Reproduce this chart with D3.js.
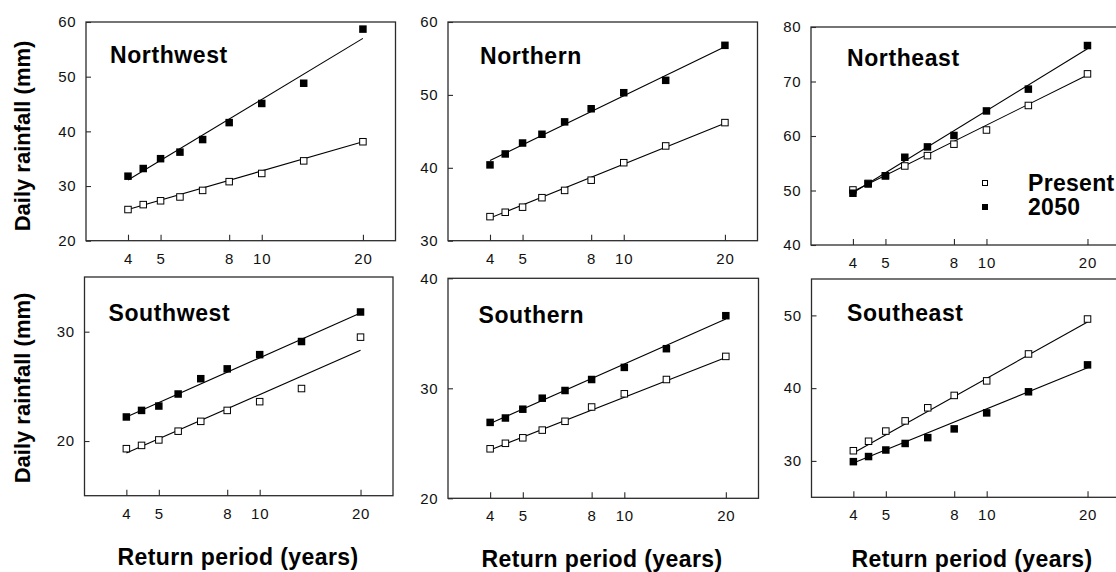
<!DOCTYPE html>
<html>
<head>
<meta charset="utf-8">
<script src="https://cdn.jsdelivr.net/npm/d3@7/dist/d3.min.js"></script>
<style>
  html, body { margin: 0; padding: 0; background: #fff; }
  svg { display: block; font-family: "Liberation Sans", Arial, sans-serif; }
</style>
</head>
<body>
<svg id="chart" width="1116" height="572"></svg>
<script>
// Return periods (years) at which daily rainfall was estimated
const returnPeriods = [4, 4.44, 5, 5.71, 6.67, 8, 10, 13.33, 20];
const xTickValues = [4, 5, 8, 10, 20];
const fitEnds = [4, 20];

const regionNames = ["Northwest", "Northern", "Northeast", "Southwest", "Southern", "Southeast"];

// Daily rainfall (mm), present climate
const presentNorthwest = [25.7, 26.6, 27.3, 28.0, 29.2, 30.8, 32.3, 34.6, 38.1];
const presentNorthern  = [33.3, 33.9, 34.6, 35.9, 36.9, 38.3, 40.7, 43.0, 46.2];
const presentNortheast = [50.1, 51.3, 52.7, 54.5, 56.4, 58.5, 61.1, 65.6, 71.4];
const presentSouthwest = [19.3, 19.6, 20.1, 20.9, 21.8, 22.8, 23.6, 24.8, 29.5];
const presentSouthern  = [24.5, 25.0, 25.5, 26.2, 27.0, 28.3, 29.5, 30.8, 32.9];
const presentSoutheast = [31.4, 32.7, 34.1, 35.5, 37.3, 39.0, 41.0, 44.7, 49.5];

// Daily rainfall (mm), 2050 climate
const y2050Northwest = [31.8, 33.2, 35.0, 36.2, 38.5, 41.6, 45.1, 48.8, 58.7];
const y2050Northern  = [40.4, 41.9, 43.4, 44.6, 46.3, 48.1, 50.3, 52.0, 56.8];
const y2050Northeast = [49.5, 51.2, 52.7, 56.1, 58.0, 60.1, 64.6, 68.6, 76.6];
const y2050Southwest = [22.2, 22.8, 23.2, 24.3, 25.7, 26.6, 27.9, 29.1, 31.8];
const y2050Southern  = [26.9, 27.3, 28.1, 29.1, 29.8, 30.8, 31.9, 33.6, 36.6];
const y2050Southeast = [29.9, 30.6, 31.5, 32.4, 33.2, 34.4, 36.6, 39.5, 43.2];

// Fitted trend lines: values at the 4- and 20-year return periods
const fitPresentNorthwest = [25.7, 38.1];
const fitPresentNorthern  = [33.1, 46.1];
const fitPresentNortheast = [49.8, 71.2];
const fitPresentSouthwest = [18.9, 28.3];
const fitPresentSouthern  = [24.4, 32.8];
const fitPresentSoutheast = [31.1, 49.1];
const fit2050Northwest = [31.1, 57.0];
const fit2050Northern  = [41.0, 56.6];
const fit2050Northeast = [49.6, 76.0];
const fit2050Southwest = [22.2, 31.7];
const fit2050Southern  = [26.8, 36.3];
const fit2050Southeast = [29.7, 42.8];

// Y-axis ranges and tick labels per region
const yDomains = [[20, 60], [30, 60], [40, 80], [15, 35], [20, 40], [25, 55]];
const yTickValues = [[20, 30, 40, 50, 60], [30, 40, 50, 60], [40, 50, 60, 70, 80], [20, 30], [20, 30, 40], [30, 40, 50]];

const legendLabels = ["Present", "2050"];
const yAxisTitle = "Daily rainfall (mm)";
const xAxisTitle = "Return period (years)";

const presentSeries = [presentNorthwest, presentNorthern, presentNortheast, presentSouthwest, presentSouthern, presentSoutheast];
const series2050 = [y2050Northwest, y2050Northern, y2050Northeast, y2050Southwest, y2050Southern, y2050Southeast];
const fitPresent = [fitPresentNorthwest, fitPresentNorthern, fitPresentNortheast, fitPresentSouthwest, fitPresentSouthern, fitPresentSoutheast];
const fit2050 = [fit2050Northwest, fit2050Northern, fit2050Northeast, fit2050Southwest, fit2050Southern, fit2050Southeast];

// Panel frames (left, top, right, bottom) in pixels
const frames = [
  [86, 22, 395.5, 240.7],
  [448, 22, 757.5, 240.7],
  [811, 27, 1120, 245],
  [84.5, 277, 393, 495.7],
  [448, 278.3, 758.5, 498.3],
  [811.5, 279, 1120, 497.3]
];
const titleOffsets = [[24, 40.5], [32, 42], [36, 39], [24, 43.7], [30.5, 45], [35.5, 41.5]];
const xTitleCenters = [238, 602, 972];

const svg = d3.select("#chart");
svg.append("rect").attr("width", 1116).attr("height", 572).attr("fill", "#fff");

const frameColor = "#2b2b2b";
const markerSize = 7.5;

regionNames.forEach((name, i) => {
  const [x0, y0, x1, y1] = frames[i];
  const x = d3.scaleLog().domain([3, 25]).range([x0, x1]);
  const y = d3.scaleLinear().domain(yDomains[i]).range([y1, y0]);
  const g = svg.append("g");

  // x axis (ticks point inward)
  const xAxis = d3.axisBottom(x).tickValues(xTickValues).tickFormat(d3.format("d"))
    .tickSizeInner(-6).tickSizeOuter(0).tickPadding(12.5);
  const gx = g.append("g").attr("transform", `translate(0,${y1})`).call(xAxis);
  gx.select(".domain").remove();
  gx.selectAll(".tick line").attr("stroke", frameColor).attr("stroke-width", 1.1);
  gx.selectAll(".tick text").attr("font-size", 15).attr("fill", "#111")
    .attr("font-family", "'Liberation Sans', Arial, sans-serif").attr("letter-spacing", 0.8);

  // y axis (ticks point inward)
  const yAxis = d3.axisLeft(y).tickValues(yTickValues[i]).tickFormat(d3.format("d"))
    .tickSizeInner(-5).tickSizeOuter(0).tickPadding(9.5);
  const gy = g.append("g").attr("transform", `translate(${x0},0)`).call(yAxis);
  gy.select(".domain").remove();
  gy.selectAll(".tick line").attr("stroke", frameColor).attr("stroke-width", 1.1);
  gy.selectAll(".tick text").attr("font-size", 15).attr("fill", "#111")
    .attr("font-family", "'Liberation Sans', Arial, sans-serif").attr("letter-spacing", 0.8);

  // frame
  g.append("rect").attr("x", x0).attr("y", y0).attr("width", x1 - x0).attr("height", y1 - y0)
    .attr("fill", "none").attr("stroke", frameColor).attr("stroke-width", 1.3);

  // fitted lines
  const line = d3.line().x(d => x(d[0])).y(d => y(d[1]));
  [fitPresent[i], fit2050[i]].forEach(f => {
    g.append("path").datum(fitEnds.map((t, k) => [t, f[k]]))
      .attr("d", line).attr("fill", "none").attr("stroke", "#000").attr("stroke-width", 1.1);
  });

  // present: open squares
  g.selectAll(".present").data(returnPeriods.map((t, k) => [t, presentSeries[i][k]]))
    .join("rect").attr("class", "present")
    .attr("x", d => x(d[0]) - (markerSize - 1) / 2).attr("y", d => y(d[1]) - (markerSize - 1) / 2)
    .attr("width", markerSize - 1).attr("height", markerSize - 1)
    .attr("fill", "#fff").attr("stroke", "#000").attr("stroke-width", 1);

  // 2050: filled squares
  g.selectAll(".future").data(returnPeriods.map((t, k) => [t, series2050[i][k]]))
    .join("rect").attr("class", "future")
    .attr("x", d => x(d[0]) - markerSize / 2).attr("y", d => y(d[1]) - markerSize / 2)
    .attr("width", markerSize).attr("height", markerSize).attr("fill", "#000");

  // region title
  g.append("text").attr("x", x0 + titleOffsets[i][0]).attr("y", y0 + titleOffsets[i][1])
    .attr("font-size", 23).attr("font-weight", "bold").attr("letter-spacing", 0.6)
    .attr("fill", "#000").text(name);
});

// y-axis titles (left column)
[[22, 136], [22, 388]].forEach(([cx, cy]) => {
  svg.append("text").attr("transform", `translate(${cx + 7.5},${cy}) rotate(-90)`)
    .attr("text-anchor", "middle").attr("font-size", 22).attr("font-weight", "bold")
    .attr("fill", "#000").text(yAxisTitle);
});

// x-axis titles (bottom row)
xTitleCenters.forEach((cx, k) => {
  svg.append("text").attr("x", cx).attr("y", k === 0 ? 565 : 566.5)
    .attr("text-anchor", "middle").attr("font-size", 23).attr("font-weight", "bold")
    .attr("letter-spacing", 0.4).attr("fill", "#000").text(xAxisTitle);
});

// legend (inside the Northeast panel)
const legendRows = [[183, false], [207, true]];
legendLabels.forEach((label, k) => {
  const [cy, filled] = legendRows[k];
  svg.append("rect").attr("x", 985 - 2.5).attr("y", cy - 2.5).attr("width", 5).attr("height", 5)
    .attr("fill", filled ? "#000" : "#fff").attr("stroke", "#000").attr("stroke-width", 1);
  svg.append("text").attr("x", 1028).attr("y", cy + 8)
    .attr("font-size", 23).attr("font-weight", "bold").attr("letter-spacing", 0.3)
    .attr("fill", "#000").text(label);
});
</script>
</body>
</html>
